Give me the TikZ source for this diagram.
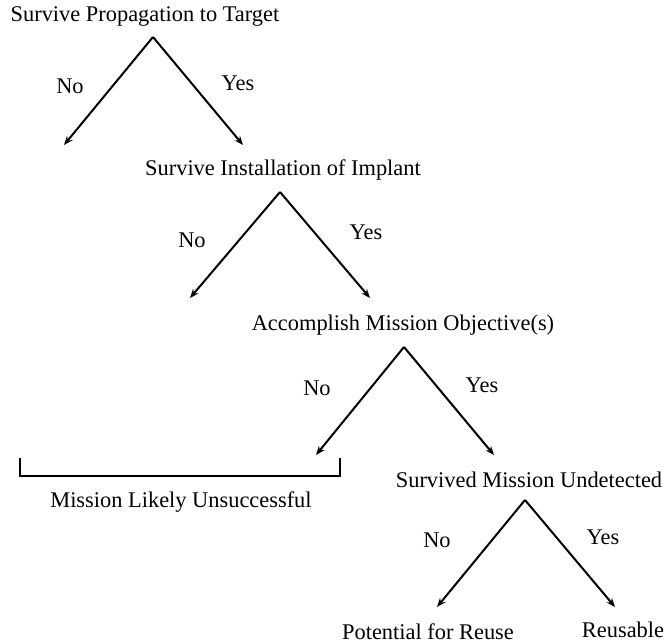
\documentclass[tikz,border=0pt]{standalone}
\usepackage{fontspec}
\setmainfont{Liberation Serif}
\usetikzlibrary{arrows.meta}
\begin{document}
\begin{tikzpicture}[x=1pt,y=-1pt,
  lbl/.style={inner sep=0pt,font=\fontsize{22.4}{25}\selectfont},
  arr/.style={line width=2pt,-{Stealth[length=9pt,width=7pt]}},
  brk/.style={line width=2pt}]
\useasboundingbox (0,0) rectangle (667,644);
% level 1
\node[lbl] (t1) at (145,17) {Survive\ Propagation to Target};
\coordinate (a1) at (153,37);
\coordinate (l1) at (64,145);
\coordinate (r1) at (243,145);
\draw[arr] (a1) -- (l1);
\draw[arr] (a1) -- (r1);
\node[lbl] (n1) at (70,86) {No};
\node[lbl] (y1) at (238,83) {Yes};
% level 2
\node[lbl] (t2) at (283,170) {Survive Installation of Implant};
\coordinate (a2) at (280,192);
\coordinate (l2) at (190,298);
\coordinate (r2) at (370,298);
\draw[arr] (a2) -- (l2);
\draw[arr] (a2) -- (r2);
\node[lbl] (n2) at (192,240) {No};
\node[lbl] (y2) at (366,232) {Yes};
% level 3
\node[lbl] (t3) at (403,325) {Accomplish Mission Objective(s)};
\coordinate (a3) at (404,347);
\coordinate (l3) at (316,455);
\coordinate (r3) at (494,455);
\draw[arr] (a3) -- (l3);
\draw[arr] (a3) -- (r3);
\node[lbl] (n3) at (317,388) {No};
\node[lbl] (y3) at (482,385) {Yes};
% bracket
\coordinate (b1) at (20,458);
\coordinate (b2) at (20,476);
\coordinate (b3) at (340,476);
\coordinate (b4) at (340,458);
\draw[brk] (b1) -- (b2) -- (b3) -- (b4);
\node[lbl] (fail) at (181,502) {Mission Likely Unsuccessful};
% level 4
\node[lbl] (t4) at (529,480) {Survived Mission Undetected};
\coordinate (a4) at (525,500);
\coordinate (l4) at (437,607);
\coordinate (r4) at (615,607);
\draw[arr] (a4) -- (l4);
\draw[arr] (a4) -- (r4);
\node[lbl] (n4) at (437,540) {No};
\node[lbl] (y4) at (603,537) {Yes};
\node[lbl] (pot) at (428,632) {Potential for Reuse};
\node[lbl] (reu) at (623,630) {Reusable};
\end{tikzpicture}
\end{document}
